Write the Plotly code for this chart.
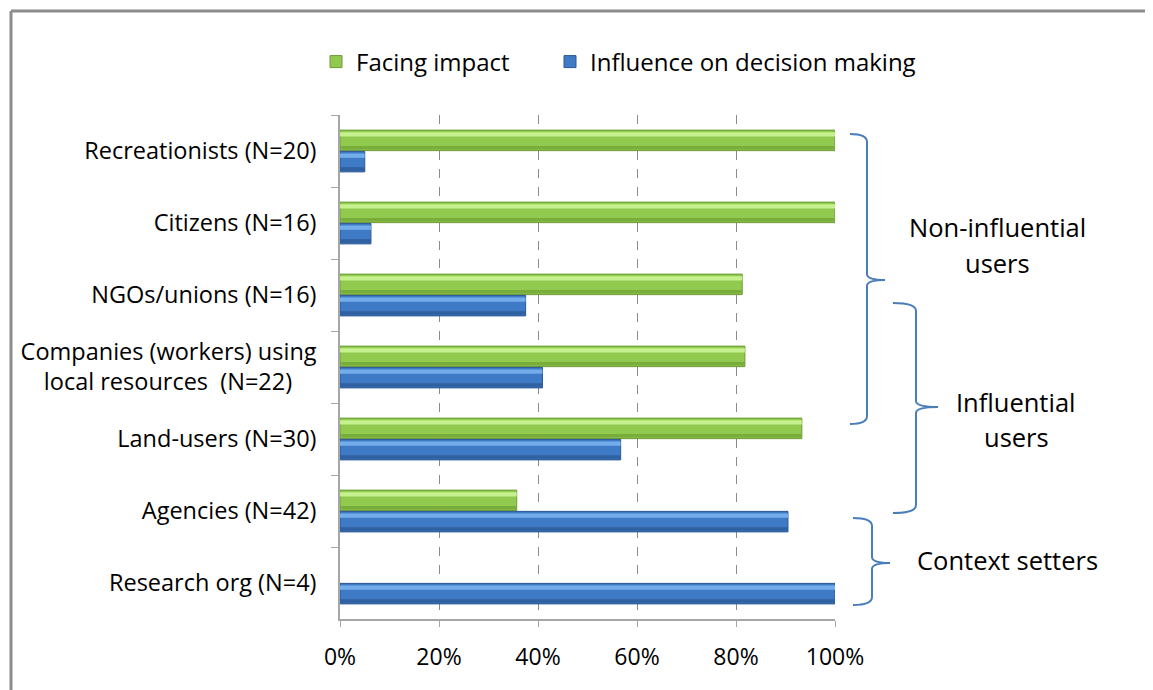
import plotly.graph_objects as go

categories = [
    "Recreationists (N=20)",
    "Citizens (N=16)",
    "NGOs/unions (N=16)",
    "Companies (workers) using<br>local resources  (N=22)" + "\u00a0" * 4,
    "Land-users (N=30)",
    "Agencies (N=42)",
    "Research org (N=4)",
]
facing_impact = [100, 100, 81.25, 81.8, 93.3, 35.7, 0]
influence = [5, 6.25, 37.5, 40.9, 56.7, 90.5, 100]
x_ticks = [0, 20, 40, 60, 80, 100]
x_tick_labels = ["0%", "20%", "40%", "60%", "80%", "100%"]

FONT = "Open Sans"
OFF = 8  # page body margin
PAGE_W, PAGE_H = 1153, 690
W, H = PAGE_W - OFF, PAGE_H - OFF
PX0, PX1, PY0, PY1 = 340, 835, 115, 619
L, T = PX0 - OFF, PY0 - OFF
R, B = W - (PX1 - OFF), H - (PY1 - OFF)
PW, PH = PX1 - PX0, PY1 - PY0


def px_x(x):
    return (x - PX0) / PW


def px_y(y):
    return (PY1 - y) / PH


fig = go.Figure()

BW = 0.285
G_OFF = -BW - 0.005
B_OFF = 0.005
fig.add_trace(go.Bar(
    y=categories, x=facing_impact, orientation="h", name="Facing impact",
    width=BW, offset=G_OFF, legend="legend",
    marker=dict(color="#92C94F",
                line=dict(color="#6E9A36", width=[1 if v > 0 else 0 for v in facing_impact])),
))
fig.add_trace(go.Bar(
    y=categories, x=influence, orientation="h", name="Influence on decision making",
    width=BW, offset=B_OFF, legend="legend2",
    marker=dict(color="#3E7AC6",
                line=dict(color="#2A5893", width=[1 if v > 0 else 0 for v in influence])),
))
# bevel look: light stripe near top, darker stripe near bottom
for vals, off, light, dark in [
    (facing_impact, G_OFF, "#C6EF8E", "#78AD3C"),
    (influence, B_OFF, "#74ADEB", "#2F609F"),
]:
    fig.add_trace(go.Bar(
        y=categories, x=vals, orientation="h", showlegend=False, hoverinfo="skip",
        width=0.06, offset=off + 0.03,
        marker=dict(color=light, line=dict(width=0)),
    ))
    fig.add_trace(go.Bar(
        y=categories, x=vals, orientation="h", showlegend=False, hoverinfo="skip",
        width=0.05, offset=off + BW - 0.065,
        marker=dict(color=dark, line=dict(width=0)),
    ))

shapes = []
shapes.append(dict(type="line", xref="paper", yref="paper",
                   x0=px_x(11), x1=px_x(PAGE_W + 20), y0=px_y(11), y1=px_y(11),
                   line=dict(color="#8C8C8C", width=3)))
shapes.append(dict(type="line", xref="paper", yref="paper",
                   x0=px_x(11), x1=px_x(11), y0=px_y(11), y1=px_y(PAGE_H + 20),
                   line=dict(color="#8C8C8C", width=3)))


def brace(x0, xv, xt, ytop, ymid, ybot, r=8, r2=6):
    pts = [
        f"M {px_x(x0)},{px_y(ytop)}",
        f"Q {px_x(xv)},{px_y(ytop)} {px_x(xv)},{px_y(ytop + r)}",
        f"L {px_x(xv)},{px_y(ymid - r2)}",
        f"Q {px_x(xv)},{px_y(ymid)} {px_x(xt)},{px_y(ymid)}",
        f"Q {px_x(xv)},{px_y(ymid)} {px_x(xv)},{px_y(ymid + r2)}",
        f"L {px_x(xv)},{px_y(ybot - r)}",
        f"Q {px_x(xv)},{px_y(ybot)} {px_x(x0)},{px_y(ybot)}",
    ]
    return dict(type="path", xref="paper", yref="paper", path=" ".join(pts),
                line=dict(color="#4A7EBB", width=2))


shapes.append(brace(850, 867, 885, 134, 280, 424))
shapes.append(brace(893, 916, 938, 303, 407, 513))
shapes.append(brace(853, 872, 890, 518, 563, 605))

annotations = []
for text, cx, cy in [
    ("Non-influential", 997, 227),
    ("users", 997, 263),
    ("Influential", 1016, 402),
    ("users", 1016, 437),
    ("Context setters", 1007, 560),
]:
    annotations.append(dict(text=text, x=px_x(cx), y=px_y(cy), xref="paper", yref="paper",
                            showarrow=False, xanchor="center", yanchor="middle",
                            font=dict(family=FONT, size=25.5, color="#000000")))

legend_common = dict(orientation="h", xanchor="left", yanchor="middle", y=px_y(62),
                     font=dict(family=FONT, size=24, color="#000000"),
                     bgcolor="rgba(0,0,0,0)")

fig.update_layout(
    width=W, height=H,
    margin=dict(l=L, r=R, t=T, b=B, pad=0),
    paper_bgcolor="white", plot_bgcolor="white",
    barmode="overlay",
    font=dict(family=FONT, size=23.5, color="#000000"),
    legend=dict(x=px_x(316), **legend_common),
    legend2=dict(x=px_x(550), **legend_common),
    shapes=shapes,
    annotations=annotations,
    showlegend=True,
)
fig.update_xaxes(
    range=[0, 100], tickmode="array", tickvals=x_ticks, ticktext=x_tick_labels,
    showgrid=True, gridcolor="#8A8A8A", griddash="dash", gridwidth=1,
    showline=True, linecolor="#A6A6A6", linewidth=1.5,
    ticks="outside", ticklen=6, tickcolor="#A6A6A6", ticklabelstandoff=11,
    tickfont=dict(family=FONT, size=23), zeroline=False,
)
fig.update_yaxes(
    categoryorder="array", categoryarray=categories, autorange="reversed",
    showline=True, linecolor="#A6A6A6", linewidth=1.5,
    ticks="outside", ticklen=7, tickcolor="#A6A6A6", tickson="boundaries",
    ticklabelstandoff=17,
    tickfont=dict(family=FONT, size=23.5), showgrid=False,
)

fig.write_html("out.html")
